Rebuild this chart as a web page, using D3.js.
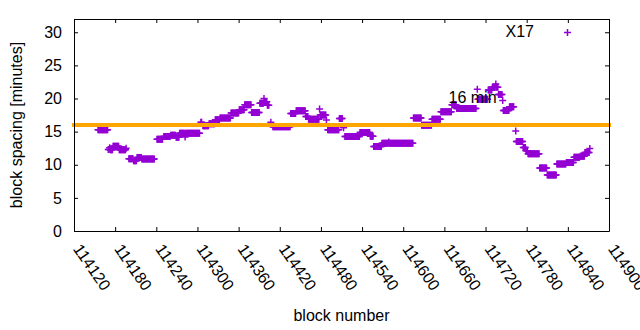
<!DOCTYPE html>
<html>
<head>
<meta charset="utf-8">
<script src="https://cdn.jsdelivr.net/npm/d3@7"></script>
<style>
  body { margin: 0; background: #fff; }
  svg text { font-family: "Liberation Sans", Arial, sans-serif; font-size: 16px; fill: #000; }
</style>
</head>
<body>
<script>

// Block spacing data, read off the picture as runs of blocks with the same value
// (first block of the run, last block of the run, spacing in minutes)
var runFirst = [114155,114170,114172,114173,114177,114186,114196,114200,114207,114212,
                114219,114241,114251,114261,114269,114274,114282,114283,114305,114308,
                114317,114326,114333,114349,114361,114369,114379,114391,114397,114398,
                114402,114407,114410,114436,114444,114458,114462,114478,114479,114488,
                114490,114507,114513,114515,114537,114552,114557,114569,114579,114580,
                114615,114627,114642,114655,114671,114678,114708,114709,114724,114730,
                114735,114736,114739,114745,114746,114755,114764,114765,114775,114779,
                114782,114799,114810,114824,114838,114849,114858,114865,114872]
var runLast  = [114169,114171,114172,114176,114185,114195,114196,114206,114211,114218,
                114237,114249,114260,114268,114273,114281,114282,114303,114306,114316,
                114325,114332,114348,114360,114368,114378,114390,114396,114397,114401,
                114404,114407,114435,114443,114457,114461,114477,114478,114487,114488,
                114506,114511,114513,114536,114551,114556,114568,114578,114579,114614,
                114626,114641,114654,114670,114677,114706,114708,114723,114729,114734,
                114735,114738,114744,114745,114754,114761,114764,114774,114778,114781,
                114798,114809,114823,114837,114848,114857,114864,114871,114872]
var runSpacing = [15.3,12.3,12.55,12.25,12.8,12.25,12.5,10.9,10.6,11.1,
                  10.85,13.85,14.25,14.45,14.15,14.75,14.2,14.75,16.4,15.9,
                  16.2,16.8,17.05,17.8,18.3,19.05,17.9,19.3,20.0,19.5,
                  19.0,16.4,15.75,17.75,18.15,17.3,16.85,18.4,17.5,16.75,
                  15.3,17.0,15.6,14.25,14.85,14.3,12.75,13.25,13.45,13.25,
                  17.05,15.95,16.85,18.0,19.05,18.5,21.4,19.9,21.3,21.7,
                  22.2,21.7,20.6,19.7,18.2,18.75,15.1,13.5,12.6,12.1,
                  11.65,9.5,8.45,10.1,10.35,11.15,11.3,11.85,12.45]

// Axis ticks, target line and labels
var xTicks = [114120,114180,114240,114300,114360,114420,114480,114540,114600,114660,114720,114780,114840,114900]
var yTicks = [0,5,10,15,20,25,30]
var target = 16
var targetLabel = "16 min"
var seriesName = "X17"

// one point per block
var points = []
runFirst.forEach(function(first, i) {
    for (var b = first; b <= runLast[i]; b++) {
        points.push({block: b, spacing: runSpacing[i]})
    }
})

// Formatting stuff
var margin = ({top: 19, right: 31, bottom: 99, left: 74})
var width = 640 - margin.left - margin.right
var height = 330 - margin.top - margin.bottom
var purple = "#9400d3"

var svg = d3.select("body")
    .append("svg")
    .attr("width", 640)
    .attr("height", 330)

var g = svg.append("g")
    .attr("transform", "translate(" + margin.left + "," + margin.top + ")");

var xScale = d3.scaleLinear()
    .domain([114120, 114900])
    .range([0, width]);

var yScale = d3.scaleLinear()
    .domain([0, 32])
    .range([height, 0]);

// plus markers
var plus = "M-3.5,0H3.5M0,-3.5V3.5"

g.append("g")
    .selectAll("path")
    .data(points)
    .join("path")
    .attr("d", plus)
    .attr("transform", d => "translate(" + xScale(d.block) + "," + yScale(d.spacing) + ")")
    .attr("fill", "none")
    .attr("stroke", purple)
    .attr("stroke-width", 1.5);

// 16 minute target line
g.append("line")
    .attr("x1", xScale(114120))
    .attr("x2", xScale(114900))
    .attr("y1", yScale(target))
    .attr("y2", yScale(target))
    .attr("stroke", "#ffa500")
    .attr("stroke-width", 4)
    .attr("stroke-linecap", "square");

g.append("text")
    .attr("x", xScale(114666))
    .attr("y", yScale(20))
    .attr("dy", "0.3em")
    .text(targetLabel);

// axes, ticks pointing inward and mirrored on top/right
const xAxis = g.append("g")
    .attr("transform", "translate(0," + height + ")")
    .call(d3.axisBottom(xScale).tickValues(xTicks).tickFormat(d3.format("d"))
        .tickSizeInner(-4).tickSizeOuter(0));

xAxis.selectAll("text")
    .attr("x", 0)
    .attr("y", 0)
    .attr("dy", null)
    .attr("transform", "translate(-2,18) rotate(55)")
    .style("text-anchor", "start");

const yAxis = g.append("g")
    .call(d3.axisLeft(yScale).tickValues(yTicks)
        .tickSizeInner(-4).tickSizeOuter(0).tickPadding(12));

g.append("g")
    .call(d3.axisTop(xScale).tickValues(xTicks).tickFormat("")
        .tickSizeInner(-4).tickSizeOuter(0));

g.append("g")
    .attr("transform", "translate(" + width + ",0)")
    .call(d3.axisRight(yScale).tickValues(yTicks).tickFormat("")
        .tickSizeInner(-4).tickSizeOuter(0));

g.selectAll(".domain, .tick line")
    .attr("stroke", "#000")
    .attr("stroke-width", 1);

g.selectAll(".tick text")
    .attr("fill", "#000")
    .style("font-size", "16px")
    .style("font-family", "'Liberation Sans', Arial, sans-serif");

// axis titles
svg.append("text")
    .attr("x", margin.left + width / 2)
    .attr("y", 321)
    .attr("text-anchor", "middle")
    .text("block number");

svg.append("text")
    .attr("transform", "translate(22," + (margin.top + height / 2) + ") rotate(-90)")
    .attr("text-anchor", "middle")
    .text("block spacing [minutes]");

// key
svg.append("text")
    .attr("x", 534)
    .attr("y", 37)
    .attr("text-anchor", "end")
    .text(seriesName);

svg.append("path")
    .attr("d", plus)
    .attr("transform", "translate(567.5,32.5)")
    .attr("fill", "none")
    .attr("stroke", purple)
    .attr("stroke-width", 1.5);

</script>
</body>
</html>
